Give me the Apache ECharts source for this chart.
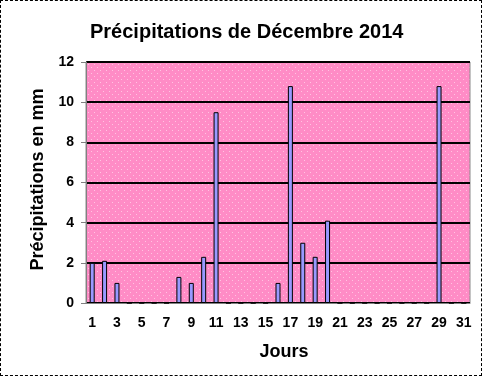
<!DOCTYPE html>
<html>
<head>
<meta charset="utf-8">
<script src="https://cdn.jsdelivr.net/npm/echarts@6/dist/echarts.min.js"></script>
<style>
  html, body { margin: 0; padding: 0; background: #fff; }
  #frame { width: 482px; height: 376px; box-sizing: border-box; border: 1px dashed #000; }
  #chart1 { width: 480px; height: 374px; }
</style>
</head>
<body>
<div id="frame"><div id="chart1"></div></div>
<script>
var days = [];
for (var d = 1; d <= 31; d++) days.push(String(d));
var rain = [2.0, 2.1, 1.0, 0, 0, 0, 0, 1.3, 1.0, 2.3, 9.5, 0, 0, 0, 0, 1.0,
            10.8, 3.0, 2.3, 4.1, 0, 0, 0, 0, 0, 0, 0, 0, 10.8, 0, 0];
var yTicks = [0, 2, 4, 6, 8, 10, 12];

// petit motif pointillé pour le fond rose
function dotPattern () {
    var c = document.createElement('canvas');
    c.width = 6; c.height = 6;
    var ctx = c.getContext('2d');
    ctx.fillStyle = '#ff8cc6';
    ctx.fillRect(0, 0, 6, 6);
    ctx.fillStyle = '#ffc4e2';
    ctx.fillRect(0, 0, 1, 1);
    ctx.fillRect(3, 3, 1, 1);
    return c;
}

_initChart();
function _initChart () {
    var myChart = echarts.init(document.getElementById('chart1'));
    var font = 'Liberation Sans, Arial, sans-serif';
    var option = {
        animation: false,
        title: {
            text: 'Précipitations de Décembre 2014',
            left: 84,
            top: 16,
            textStyle: { fontFamily: font, fontSize: 20, fontWeight: 'bold', color: '#000' }
        },
        grid: {
            left: 85,
            right: 11,
            top: 61,
            bottom: 72,
            show: true,
            backgroundColor: { image: dotPattern(), repeat: 'repeat' },
            borderColor: '#8a8a8a',
            borderWidth: 1
        },
        xAxis: {
            type: 'category',
            data: days,
            name: 'Jours',
            nameLocation: 'middle',
            nameGap: 40,
            nameTextStyle: { fontFamily: font, fontSize: 18, fontWeight: 'bold', color: '#000', padding: [0, 0, 0, 12] },
            axisLine: { lineStyle: { color: '#808080', width: 1 } },
            axisTick: { length: 4, lineStyle: { color: '#808080' } },
            axisLabel: {
                interval: 1,
                margin: 13,
                fontFamily: font, fontSize: 14, fontWeight: 'bold', color: '#000'
            }
        },
        yAxis: {
            type: 'value',
            min: yTicks[0],
            max: yTicks[yTicks.length - 1],
            interval: 2,
            name: 'Précipitations en mm',
            nameLocation: 'middle',
            nameGap: 38,
            nameTextStyle: { fontFamily: font, fontSize: 18, fontWeight: 'bold', color: '#000', padding: [0, 0, 0, 6] },
            axisLine: { show: true, lineStyle: { color: '#808080', width: 1 } },
            axisTick: { show: true, length: 5, lineStyle: { color: '#808080' } },
            axisLabel: {
                margin: 12,
                fontFamily: font, fontSize: 14, fontWeight: 'bold', color: '#000'
            },
            splitLine: { show: true, lineStyle: { color: '#000', width: 2 } }
        },
        series: [
            {
                type: 'bar',
                barWidth: 5,
                data: rain,
                itemStyle: {
                    color: '#9999ff',
                    borderColor: '#000',
                    borderWidth: 1
                }
            }
        ]
    };
    myChart.setOption(option);
    window.onresize = myChart.resize;
}
</script>
</body>
</html>
